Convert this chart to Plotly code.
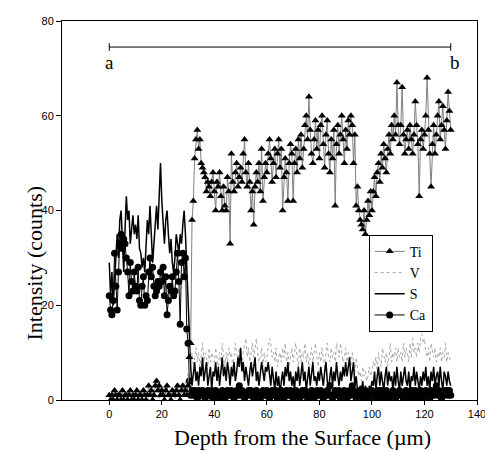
import numpy as np
import plotly.graph_objects as go

# depth grid (um), 0.5 um steps
depth = np.arange(0, 130.5, 0.5)

ti_counts = [
    1, 0, 1, 0, 2, 1, 0, 1, 1, 0, 2, 0, 1, 1, 0, 1, 2, 0, 1, 0,
    1, 2, 0, 1, 1, 0, 2, 1, 0, 1, 3, 1, 2, 0, 1, 3, 4, 2, 3, 1,
    2, 1, 0, 2, 3, 1, 1, 0, 2, 1, 1, 2, 3, 1, 0, 2, 3, 1, 2, 1,
    3, 9, 12, 38, 42, 51, 55, 57, 53, 55, 50, 49, 48, 47, 44, 46, 45, 43, 46, 48,
    44, 40, 46, 45, 48, 43, 40, 45, 41, 40, 47, 44, 33, 52, 46, 44, 48, 50, 45, 47,
    49, 46, 52, 55, 48, 45, 50, 46, 40, 44, 37, 45, 48, 46, 50, 44, 53, 42, 47, 50,
    48, 52, 55, 51, 46, 50, 53, 47, 52, 55, 49, 53, 40, 47, 51, 48, 42, 50, 54, 52,
    42, 50, 53, 48, 55, 51, 56, 49, 53, 58, 60, 55, 64, 57, 52, 50, 55, 59, 53, 57,
    51, 58, 60, 54, 49, 56, 59, 52, 48, 55, 51, 57, 41, 54, 58, 52, 56, 60, 55, 50,
    57, 53, 59, 56, 60, 58, 50, 56, 41, 45, 40, 38, 37, 36, 40, 35, 38, 42, 39, 44,
    40, 44, 47, 43, 48, 50, 46, 52, 49, 54, 51, 48, 53, 56, 52, 58, 55, 60, 56, 67,
    58, 54, 58, 66, 56, 52, 55, 57, 53, 58, 55, 52, 56, 63, 58, 54, 43, 55, 57, 53,
    56, 60, 68, 57, 52, 45, 54, 58, 52, 56, 60, 63, 55, 58, 62, 57, 53, 59, 65, 61,
    57,
]

v_counts = [
    1, 0, 0, 1, 2, 0, 1, 0, 1, 2, 1, 0, 1, 0, 2, 1, 0, 1, 0, 1,
    2, 0, 1, 1, 0, 2, 1, 0, 1, 2, 0, 1, 2, 1, 0, 1, 2, 1, 0, 1,
    1, 2, 0, 1, 2, 1, 0, 1, 2, 1, 0, 1, 2, 1, 1, 2, 3, 2, 4, 3,
    6, 9, 8, 10, 7, 9, 11, 8, 10, 7, 9, 12, 8, 10, 9, 7, 11, 8, 10, 9,
    8, 11, 9, 7, 10, 8, 12, 9, 7, 10, 8, 11, 9, 10, 7, 9, 12, 10, 8, 11,
    9, 7, 10, 12, 13, 9, 11, 8, 10, 12, 9, 11, 13, 10, 8, 9, 11, 7, 10, 8,
    9, 11, 13, 12, 9, 10, 8, 11, 7, 9, 10, 8, 11, 9, 12, 8, 10, 7, 9, 11,
    8, 10, 12, 9, 7, 11, 8, 10, 9, 12, 8, 10, 7, 9, 11, 8, 10, 12, 9, 7,
    10, 8, 11, 9, 7, 10, 12, 9, 8, 11, 9, 10, 8, 12, 11, 9, 12, 10, 8, 9,
    11, 8, 10, 9, 7, 10, 8, 6, 9, 7, 5, 6, 4, 7, 5, 6, 4, 5, 7, 5,
    6, 8, 7, 9, 6, 10, 8, 7, 11, 9, 8, 10, 7, 9, 12, 8, 10, 9, 11, 8,
    11, 9, 10, 8, 12, 9, 11, 10, 8, 12, 9, 13, 10, 11, 9, 12, 10, 13, 14, 12,
    13, 10, 9, 11, 8, 12, 10, 9, 11, 8, 10, 9, 11, 8, 10, 9, 12, 8, 10, 9,
    8,
]

s_counts = [
    29, 22, 27, 20, 25, 31, 35, 30, 38, 40, 33, 27, 36, 43, 38, 40, 33, 36, 39, 35,
    37, 34, 39, 32, 31, 28, 30, 27, 33, 38, 35, 41, 35, 29, 33, 37, 41, 36, 44, 50,
    42, 36, 33, 38, 40, 35, 31, 34, 29, 27, 30, 35, 33, 31, 35, 33, 37, 40, 35, 28,
    18, 10, 7, 3, 5, 8, 4, 6, 3, 7, 5, 9, 4, 6, 8, 3, 5, 7, 2, 6,
    5, 8, 4, 7, 3, 6, 9, 5, 7, 4, 8, 6, 3, 7, 5, 8, 4, 6, 9, 7,
    11, 6, 8, 4, 7, 5, 3, 6, 8, 5, 7, 9, 4, 6, 3, 5, 8, 6, 4, 7,
    6, 8, 5, 3, 7, 4, 2, 6, 3, 5, 1, 4, 6, 3, 7, 5, 8, 4, 6, 3,
    5, 2, 6, 4, 7, 3, 5, 8, 4, 6, 2, 5, 7, 3, 6, 8, 4, 5, 3, 6,
    4, 7, 5, 3, 6, 8, 4, 2, 5, 7, 3, 6, 4, 8, 5, 3, 6, 4, 7, 5,
    8, 5, 7, 9, 4, 6, 8, 3, 5, 2, 1, 3, 2, 4, 1, 3, 2, 1, 3, 2,
    4, 3, 6, 2, 5, 7, 3, 6, 4, 2, 5, 7, 3, 6, 4, 5, 2, 6, 3, 7,
    4, 2, 6, 3, 5, 7, 4, 3, 6, 2, 5, 4, 7, 3, 6, 4, 2, 5, 3, 6,
    4, 7, 3, 5, 2, 6, 4, 7, 3, 5, 6, 3, 7, 4, 2, 6, 5, 3, 6, 4,
    3,
]

ca_counts = [
    22, 19, 18, 21, 31, 24, 19, 27, 33, 35, 32, 34, 33, 30, 27, 22, 29, 25, 23, 27,
    24, 23, 28, 21, 20, 24, 26, 20, 22, 21, 27, 30, 26, 28, 24, 22, 23, 25, 24, 27,
    25, 28, 22, 26, 18, 21, 24, 23, 26, 22, 23, 27, 31, 25, 16, 29, 31, 26, 30, 15,
    12, 4, 1, 2, 1, 2, 1, 0, 2, 1, 1, 2, 1, 0, 1, 2, 1, 1, 2, 0,
    1, 2, 1, 1, 0, 1, 2, 1, 0, 1, 2, 1, 1, 2, 1, 0, 1, 2, 1, 3,
    1, 2, 1, 0, 1, 1, 2, 1, 2, 1, 0, 1, 2, 1, 1, 0, 1, 2, 1, 1,
    2, 1, 0, 1, 2, 1, 1, 2, 0, 1, 1, 2, 1, 0, 1, 2, 1, 1, 2, 1,
    0, 1, 2, 1, 1, 0, 1, 2, 1, 2, 1, 0, 1, 1, 2, 1, 0, 1, 2, 1,
    1, 2, 1, 0, 1, 1, 2, 1, 3, 1, 0, 1, 2, 1, 1, 2, 0, 1, 1, 2,
    1, 0, 1, 2, 1, 3, 2, 1, 0, 1, 1, 2, 1, 0, 1, 2, 1, 1, 0, 1,
    2, 1, 1, 0, 1, 2, 1, 2, 0, 1, 1, 2, 1, 0, 1, 1, 2, 1, 0, 1,
    1, 2, 1, 1, 0, 1, 2, 1, 1, 0, 2, 1, 1, 2, 0, 1, 1, 2, 1, 0,
    1, 2, 1, 1, 0, 2, 1, 1, 2, 3, 1, 2, 1, 0, 1, 1, 2, 2, 1, 2,
    1,
]

# scan line a -> b drawn above the data
scan_start, scan_end, scan_level = 0, 130, 74.5
label_level = 71.3

SERIF = "Liberation Serif, Times New Roman, serif"
SANS = "Liberation Sans, Arial, sans-serif"

fig = go.Figure()
fig.add_trace(go.Scatter(
    x=depth, y=v_counts, mode="lines", name="V", legendrank=2,
    line={"color": "#a8a8a8", "width": 1, "dash": "dot"},
))
fig.add_trace(go.Scatter(
    x=depth, y=s_counts, mode="lines", name="S", legendrank=3,
    line={"color": "black", "width": 1.5},
))
fig.add_trace(go.Scatter(
    x=depth, y=ca_counts, mode="lines+markers", name="Ca", legendrank=4,
    line={"color": "black", "width": 1},
    marker={"symbol": "circle", "size": 7, "color": "black"},
))
fig.add_trace(go.Scatter(
    x=depth, y=ti_counts, mode="lines+markers", name="Ti", legendrank=1,
    line={"color": "#808080", "width": 1},
    marker={"symbol": "triangle-up", "size": 7, "color": "black"},
))

fig.add_shape(type="line", x0=scan_start, x1=scan_end, y0=scan_level, y1=scan_level,
              line={"color": "black", "width": 1})
for xe in (scan_start, scan_end):
    fig.add_shape(type="line", x0=xe, x1=xe, y0=scan_level - 0.8, y1=scan_level + 0.8,
                  line={"color": "black", "width": 1})
fig.add_annotation(x=scan_start, y=label_level, text="a", showarrow=False,
                   font={"family": SERIF, "size": 19, "color": "black"})
fig.add_annotation(x=131.8, y=label_level, text="b", showarrow=False,
                   font={"family": SERIF, "size": 19, "color": "black"})

# axis titles placed like the original (not centred on the frame)
fig.add_annotation(x=0.58, y=-0.1, xref="paper", yref="paper", yanchor="middle",
                   text="Depth from the Surface (\u00b5m)", showarrow=False,
                   font={"family": SERIF, "size": 22, "color": "black"})
fig.add_annotation(x=-0.1, y=0.36, xref="paper", yref="paper", textangle=-90,
                   text="Intensity (counts)", showarrow=False,
                   font={"family": SERIF, "size": 22, "color": "black"})

# the page body adds an 8px offset, so the figure is sized/margined to land
# the frame at the same pixels as the original
fig.update_layout(
    width=485, height=444,
    margin={"l": 54, "r": 10, "t": 7, "b": 52},
    paper_bgcolor="white", plot_bgcolor="white",
    showlegend=True,
    legend={
        "x": 0.739, "y": 0.436, "xanchor": "left", "yanchor": "top",
        "bordercolor": "black", "borderwidth": 1, "bgcolor": "white",
        "font": {"family": SERIF, "size": 14, "color": "black"},
        "itemwidth": 30, "tracegroupgap": 0,
    },
)
fig.update_xaxes(
    range=[-18, 140], tickvals=[0, 20, 40, 60, 80, 100, 120, 140],
    showline=True, linecolor="black", linewidth=1, mirror=True,
    ticks="outside", ticklen=4, tickcolor="black", showgrid=False, zeroline=False,
    tickfont={"family": SANS, "size": 11, "color": "black"},
)
fig.update_yaxes(
    range=[0, 80], tickvals=[0, 20, 40, 60, 80],
    showline=True, linecolor="black", linewidth=1, mirror=True,
    ticks="outside", ticklen=5, tickcolor="black", showgrid=False, zeroline=False,
    tickfont={"family": SANS, "size": 11, "color": "black"},
)

fig.write_html("out.html")
